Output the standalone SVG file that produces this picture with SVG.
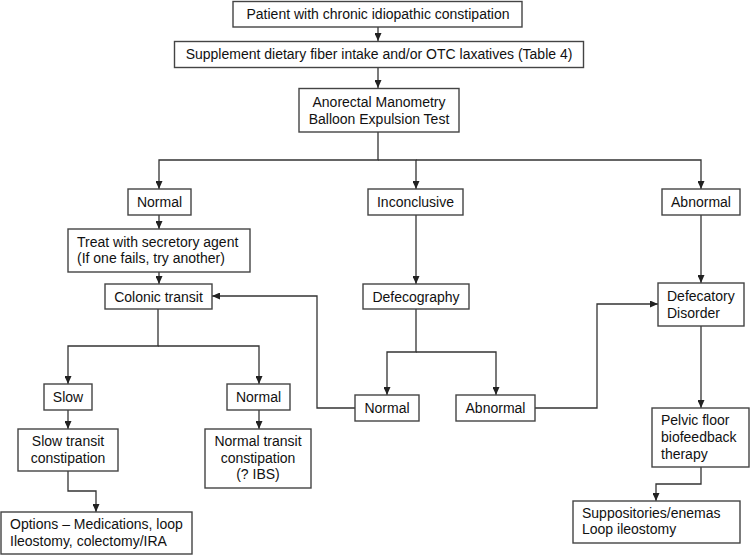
<svg xmlns="http://www.w3.org/2000/svg" width="750" height="555" viewBox="0 0 750 555">
<defs>
<marker id="ah" markerUnits="userSpaceOnUse" markerWidth="8" markerHeight="7" refX="8" refY="3.5" orient="auto">
<path d="M0,0 L8,3.5 L0,7 z" fill="#222"/>
</marker>
<style>
rect{fill:#fff;stroke:#444;stroke-width:1.4}
text{font-family:"Liberation Sans",Arial,sans-serif;font-size:14px;fill:#111}
.c{text-anchor:middle}
#connectors path{fill:none;stroke:#333;stroke-width:1.3;marker-end:url(#ah)}
#connectors path.n{marker-end:none}
</style>
</defs>
<rect x="0" y="0" width="750" height="555" style="fill:#fff;stroke:none"/>
<g id="connectors">
<path d="M378,27 V41"/>
<path d="M378,67 V88"/>
<path d="M378,132 V160 H159 V189"/>
<path d="M378,160 H416 V189"/>
<path d="M416,160 H701 V189"/>
<path d="M159,215 V229"/>
<path d="M159,272 V284"/>
<path d="M416,215 V284"/>
<path d="M701,215 V283"/>
<path d="M158,309 V346 H68 V384"/>
<path d="M158,346 H259 V384"/>
<path d="M68,410 V429"/>
<path d="M259,410 V429"/>
<path d="M68,471 V491 H96 V512"/>
<path d="M416,309 V352 H387 V395"/>
<path d="M416,352 H496 V395"/>
<path d="M355,408 H317 V296 H212"/>
<path d="M535,408 H597 V304 H658"/>
<path d="M701,326 V408"/>
<path d="M701,467 V484 H656 V501"/>
</g>
<g id="patient"><rect x="233" y="1.5" width="289" height="25.5"/><text class="c" x="378" y="19">Patient with chronic idiopathic constipation</text></g>
<g id="supplement"><rect x="174.5" y="41.5" width="409" height="26"/><text class="c" x="379" y="59">Supplement dietary fiber intake and/or OTC laxatives (Table 4)</text></g>
<g id="manometry"><rect x="299" y="88.5" width="160" height="43.5"/><text class="c" x="379" y="107">Anorectal Manometry</text><text class="c" x="379" y="124">Balloon Expulsion Test</text></g>
<g id="normal1"><rect x="128" y="189" width="63" height="26"/><text class="c" x="159.5" y="207">Normal</text></g>
<g id="inconclusive"><rect x="368" y="189" width="95" height="26"/><text class="c" x="415.5" y="207">Inconclusive</text></g>
<g id="abnormal1"><rect x="662" y="189" width="78" height="26"/><text class="c" x="701" y="207">Abnormal</text></g>
<g id="treat"><rect x="68" y="229" width="182" height="43"/><text x="77" y="246.5">Treat with secretory agent</text><text x="77" y="263">(If one fails, try another)</text></g>
<g id="colonic"><rect x="105" y="284" width="107" height="25"/><text class="c" x="158.5" y="301.5">Colonic transit</text></g>
<g id="defecography"><rect x="363" y="284" width="106" height="25"/><text class="c" x="416" y="301.5">Defecography</text></g>
<g id="defecatory"><rect x="658" y="283" width="86" height="43"/><text x="667" y="301">Defecatory</text><text x="667" y="318">Disorder</text></g>
<g id="slow"><rect x="44" y="384" width="48" height="26"/><text class="c" x="68" y="402">Slow</text></g>
<g id="normal2"><rect x="227" y="384" width="63" height="26"/><text class="c" x="258.5" y="402">Normal</text></g>
<g id="normal3"><rect x="355" y="395" width="64" height="26"/><text class="c" x="387" y="413">Normal</text></g>
<g id="abnormal2"><rect x="456" y="395" width="79" height="26"/><text class="c" x="495.5" y="413">Abnormal</text></g>
<g id="slowtransit"><rect x="18" y="429" width="100" height="42"/><text class="c" x="68" y="446">Slow transit</text><text class="c" x="68" y="462.5">constipation</text></g>
<g id="normaltransit"><rect x="205" y="429" width="106" height="59"/><text class="c" x="258" y="445.5">Normal transit</text><text class="c" x="258" y="462.5">constipation</text><text class="c" x="258" y="479">(? IBS)</text></g>
<g id="options"><rect x="1" y="512" width="191" height="42"/><text x="10" y="529">Options – Medications, loop</text><text x="10" y="545.5">Ileostomy, colectomy/IRA</text></g>
<g id="pelvic"><rect x="652" y="408" width="97" height="59"/><text x="661" y="424.5">Pelvic floor</text><text x="661" y="441.5">biofeedback</text><text x="661" y="458.5">therapy</text></g>
<g id="suppositories"><rect x="573" y="501" width="167" height="42"/><text x="582" y="517.5">Suppositories/enemas</text><text x="582" y="534">Loop ileostomy</text></g>
</svg>
